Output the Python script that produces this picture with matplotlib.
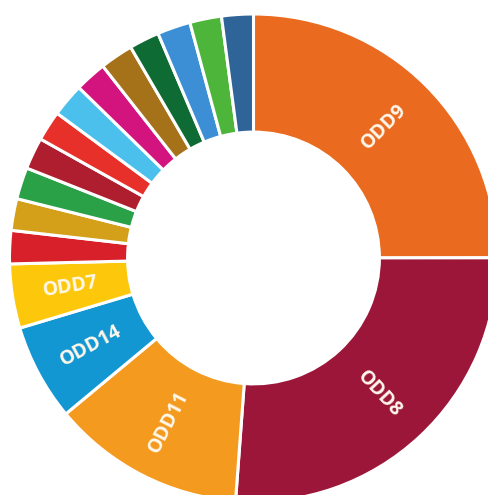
import matplotlib.pyplot as plt
import numpy as np

# share of each SDG, clockwise from the top
labels = ["ODD9", "ODD8", "ODD11", "ODD14", "ODD7",
          "ODD1", "ODD2", "ODD3", "ODD4", "ODD5", "ODD6",
          "ODD10", "ODD12", "ODD13", "ODD16", "ODD15", "ODD17"]
values = [25.0, 26.2, 12.8, 6.4, 4.25,
          2.2, 2.1, 2.1, 2.1, 2.0, 2.2,
          2.1, 2.2, 2.0, 2.2, 2.1, 2.1]
colors = ["#EA6A1F", "#9B1638", "#F39A1F", "#1297D2", "#FDC80C",
          "#D7202A", "#D4A019", "#2AA146", "#AE1E2E", "#E8302A", "#4CC0EC",
          "#D3137E", "#A57219", "#0E6B33", "#3D8FD5", "#4DB63A", "#2E6498"]
shown = ["ODD9", "ODD8", "ODD11", "ODD14", "ODD7"]

fig = plt.figure(figsize=(4.88, 4.95), dpi=100)
ax = fig.add_axes([0, 0, 1, 1])

inner = 0.516
wedges, _ = ax.pie(values, colors=colors, startangle=90, counterclock=False,
                   radius=1, wedgeprops=dict(width=1 - inner, edgecolor="white", linewidth=2.2))

r_lab = (1 + inner) / 2
for w, name in zip(wedges, labels):
    if name not in shown:
        continue
    mid = (w.theta1 + w.theta2) / 2
    x = r_lab * np.cos(np.deg2rad(mid))
    y = r_lab * np.sin(np.deg2rad(mid))
    rot = mid
    if 90 < (mid % 360) < 270:
        rot = mid - 180
    ax.text(x, y, name, ha="center", va="center", rotation=rot, rotation_mode="anchor",
            color="#FFF8EC", fontsize=14, fontweight="bold", family="Open Sans")

ax.set_xlim(-253.5 / 244, (488 - 253.5) / 244)
ax.set_ylim(-(495 - 258) / 244, 258 / 244)
ax.set_aspect("equal")
ax.axis("off")

fig.savefig("out.png", dpi=100)
